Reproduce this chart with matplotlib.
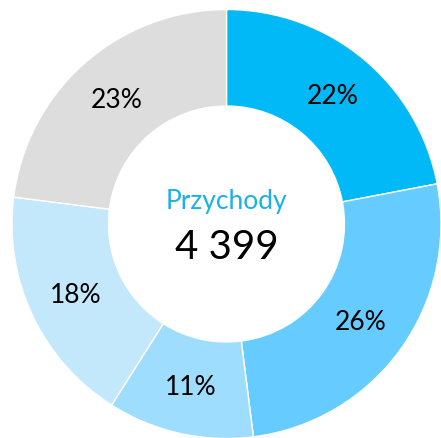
import matplotlib
matplotlib.use("Agg")
import matplotlib.pyplot as plt

labels = ["A", "B", "C", "D", "E"]
values = [22, 26, 11, 18, 23]
colors = ["#00B9F6", "#66CCFF", "#9EDDFE", "#C4E8FB", "#DDDDDD"]
title_text = "Przychody"
total_text = "4 399"

W, H = 441, 439
cx, cy, R = 226.5, 225, 214.5

fig = plt.figure(figsize=(W / 100, H / 100), dpi=100)
ax = fig.add_axes([0, 0, 1, 1])
ax.axis("off")

font = "Lato"
wedges, texts, autotexts = ax.pie(
    values, colors=colors, startangle=90, counterclock=False, radius=1,
    wedgeprops=dict(width=0.45, edgecolor="white", linewidth=1.0),
    autopct=lambda p: f"{p:.0f}%", pctdistance=0.775,
    textprops=dict(fontsize=19, color="black", family=font),
)
ax.set_xlim(-cx / R, (W - cx) / R)
ax.set_ylim(-(H - cy) / R, cy / R)
ax.set_aspect("auto")

ax.text(0, 23 / R, title_text, ha="center", va="center", fontsize=19,
        color="#1AB0E8", family=font)
ax.text(0, -23 / R, total_text, ha="center", va="center", fontsize=29,
        color="black", family=font)

fig.savefig("out.png", dpi=100)
